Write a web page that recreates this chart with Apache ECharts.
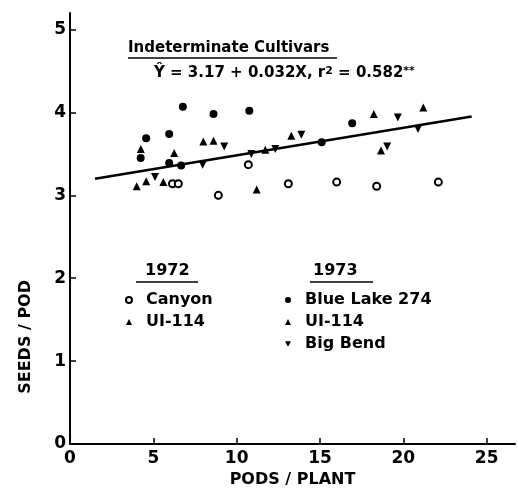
<!DOCTYPE html>
<html>
<head>
<meta charset="utf-8">
<script src="https://cdn.jsdelivr.net/npm/echarts@6/dist/echarts.min.js"></script>
<style>
  html, body { margin: 0; padding: 0; background: #fff; }
  #chart { width: 518px; height: 493px; }
</style>
</head>
<body>
<div id="chart"></div>
<script>
// values (pods per plant, seeds per pod)
const canyonX = [6.15, 6.5, 8.9, 10.7, 13.1, 16.0, 18.4, 22.1]
const canyonY = [3.14, 3.14, 3.0, 3.37, 3.14, 3.16, 3.11, 3.16]

const ui72X = [4.0, 4.57, 5.6, 11.2, 6.25, 4.25]
const ui72Y = [3.11, 3.17, 3.16, 3.07, 3.51, 3.56]

const blueLakeX = [6.77, 4.57, 5.95, 4.24, 5.95, 8.61, 10.76, 16.93, 15.1, 6.67]
const blueLakeY = [4.07, 3.69, 3.74, 3.45, 3.39, 3.98, 4.02, 3.87, 3.64, 3.36]

const ui73X = [8.0, 8.61, 11.72, 13.28, 18.23, 21.2, 18.66]
const ui73Y = [3.65, 3.66, 3.55, 3.72, 3.98, 4.06, 3.54]

const bigBendX = [5.1, 7.96, 9.25, 10.88, 12.32, 13.88, 19.67, 19.03, 20.88]
const bigBendY = [3.22, 3.37, 3.59, 3.5, 3.56, 3.73, 3.94, 3.59, 3.8]

// ends of the drawn regression line
const fitX = [1.5, 24.1]
const fitY = [3.2, 3.95]

const xTicks = [0, 5, 10, 15, 20, 25]
const yTicks = [0, 1, 2, 3, 4, 5]

const font = 'DejaVu Sans'
const downTri = 'path://M0,0 L10,0 L5,9 Z'

function pairs(xs, ys) {
  return xs.map((x, i) => [x, ys[i]])
}

function pointSeries(name, xs, ys, symbol, size, extra) {
  return Object.assign({
    name: name,
    type: 'scatter',
    symbol: symbol,
    symbolSize: size,
    itemStyle: { color: '#000', opacity: 1 },
    data: pairs(xs, ys)
  }, extra || {})
}

const chart = echarts.init(document.getElementById('chart'))

const legendBase = {
  orient: 'vertical',
  itemWidth: 6,
  itemHeight: 6,
  itemGap: 6,
  selectedMode: false,
  formatter: name => name.replace(/ 197\d$/, ''),
  textStyle: {
    fontFamily: font,
    fontSize: 16,
    fontWeight: 'bold',
    color: '#000',
    padding: [0, 0, 0, 9]
  }
}

const labelStyle = {
  fontFamily: font,
  fontSize: 17,
  fontWeight: 'bold',
  color: '#000'
}

chart.setOption({
  animation: false,
  backgroundColor: '#fff',
  grid: {
    left: 70,
    right: 3,
    top: 13,
    bottom: 47
  },
  legend: [
    Object.assign({ left: 120, top: 287, data: ['Canyon', 'UI-114 1972'] }, legendBase),
    Object.assign({ left: 280, top: 287, data: ['Blue Lake 274', 'UI-114 1973', 'Big Bend'] }, legendBase)
  ],
  xAxis: {
    type: 'value',
    min: 0,
    max: 26.7,
    interval: 5,
    name: 'PODS / PLANT',
    nameLocation: 'middle',
    nameGap: 28,
    nameTextStyle: Object.assign({}, labelStyle, { fontSize: 16 }),
    splitLine: { show: false },
    axisLine: { lineStyle: { color: '#000', width: 2 } },
    axisTick: { inside: true, length: 6, lineStyle: { color: '#000', width: 1.5 } },
    axisLabel: Object.assign({
      margin: 6,
      showMaxLabel: false,
      formatter: v => (xTicks.indexOf(v) >= 0 ? String(v) : '')
    }, labelStyle)
  },
  yAxis: {
    type: 'value',
    min: 0,
    max: 5.2,
    interval: 1,
    splitLine: { show: false },
    axisLine: { lineStyle: { color: '#000', width: 2 } },
    axisTick: { inside: true, length: 6, lineStyle: { color: '#000', width: 1.5 } },
    axisLabel: Object.assign({
      margin: 4,
      showMaxLabel: false,
      formatter: v => (yTicks.indexOf(v) >= 0 ? String(v) : '')
    }, labelStyle)
  },
  graphic: [
    {
      type: 'text',
      left: 18,
      top: 280,
      rotation: Math.PI / 2,
      originX: 0,
      originY: 0,
      style: {
        x: 0, y: 0,
        text: 'SEEDS / POD',
        fontFamily: font,
        fontSize: 16,
        fontWeight: 'bold',
        fill: '#000',
        align: 'center',
        verticalAlign: 'middle'
      },
      z: 10
    },
    {
      type: 'text',
      left: 128,
      top: 41,
      style: { text: 'Indeterminate Cultivars', fontFamily: font, fontSize: 15, fontWeight: 'bold', fill: '#000' }
    },
    {
      type: 'line',
      shape: { x1: 128, y1: 58, x2: 337, y2: 58 },
      style: { stroke: '#000', lineWidth: 1.5 }
    },
    {
      type: 'text',
      left: 154,
      top: 66,
      style: {
        text: 'Ŷ = 3.17 + 0.032X, r{sup|2} = 0.582{sup|**}',
        fontFamily: font,
        fontSize: 15,
        fontWeight: 'bold',
        fill: '#000',
        rich: {
          sup: { fontFamily: font, fontSize: 11, fontWeight: 'bold', verticalAlign: 'top', fill: '#000' }
        }
      }
    },
    {
      type: 'text',
      left: 145,
      top: 263,
      style: { text: '1972', fontFamily: font, fontSize: 16, fontWeight: 'bold', fill: '#000' }
    },
    {
      type: 'line',
      shape: { x1: 136, y1: 282, x2: 198, y2: 282 },
      style: { stroke: '#000', lineWidth: 1.5 }
    },
    {
      type: 'text',
      left: 313,
      top: 263,
      style: { text: '1973', fontFamily: font, fontSize: 16, fontWeight: 'bold', fill: '#000' }
    },
    {
      type: 'line',
      shape: { x1: 310, y1: 282, x2: 373, y2: 282 },
      style: { stroke: '#000', lineWidth: 1.5 }
    }
  ],
  series: [
    {
      name: 'fit',
      type: 'line',
      showSymbol: false,
      silent: true,
      lineStyle: { color: '#000', width: 2.5 },
      data: pairs(fitX, fitY)
    },
    pointSeries('Canyon', canyonX, canyonY, 'emptyCircle', 7, {
      itemStyle: { color: '#000', borderColor: '#000', borderWidth: 2, opacity: 1 }
    }),
    pointSeries('UI-114 1972', ui72X, ui72Y, 'triangle', 8),
    pointSeries('Blue Lake 274', blueLakeX, blueLakeY, 'circle', 8),
    pointSeries('UI-114 1973', ui73X, ui73Y, 'triangle', 8),
    pointSeries('Big Bend', bigBendX, bigBendY, downTri, 8)
  ]
})
</script>
</body>
</html>
